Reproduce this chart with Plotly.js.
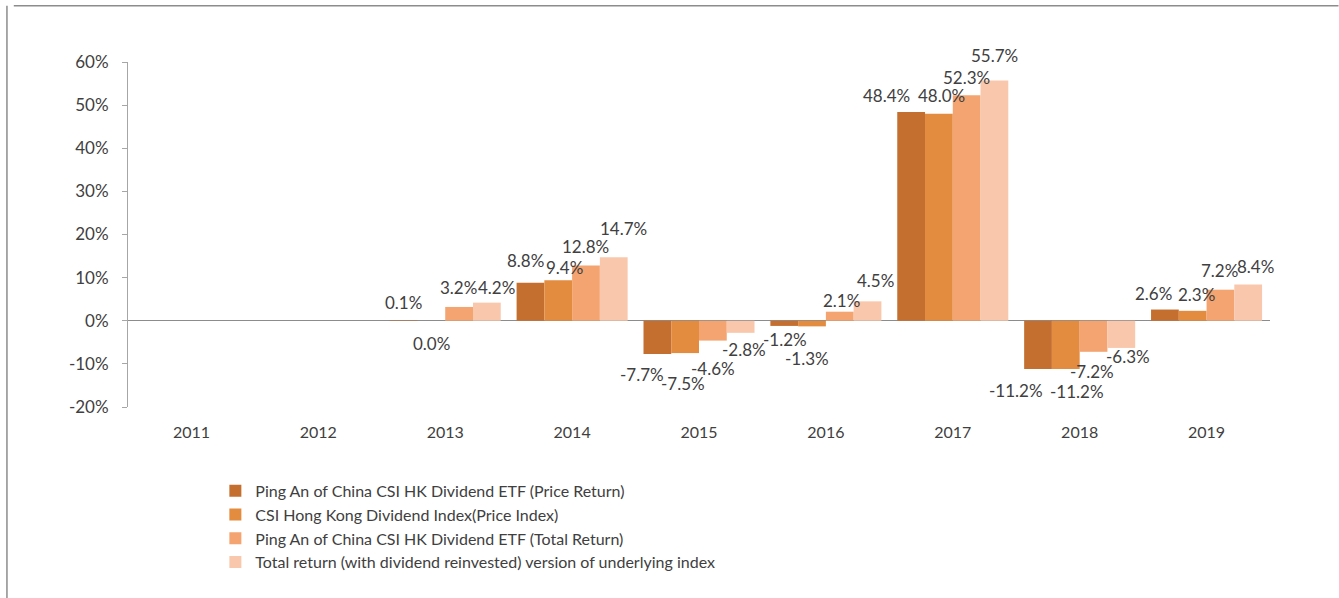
<!DOCTYPE html>
<html>
<head>
<meta charset="utf-8">
<script src="https://cdn.plot.ly/plotly-3.0.1.min.js"></script>
<style>html,body{margin:0;padding:0;background:#fff;}#chart{width:1339px;height:598px;}</style>
</head>
<body>
<div id="chart"></div>
<script>
// ---- data ----
const years = ["2011","2012","2013","2014","2015","2016","2017","2018","2019"];
const etfPrice   = [null, null, 0.1,  8.8, -7.7, -1.2, 48.4, -11.2, 2.6];
const indexPrice = [null, null, 0.0,  9.4, -7.5, -1.3, 48.0, -11.2, 2.3];
const etfTotal   = [null, null, 3.2, 12.8, -4.6,  2.1, 52.3,  -7.2, 7.2];
const indexTotal = [null, null, 4.2, 14.7, -2.8,  4.5, 55.7,  -6.3, 8.4];
const seriesNames = [
  "Ping An of China CSI HK Dividend ETF (Price Return)",
  "CSI Hong Kong Dividend Index(Price Index)",
  "Ping An of China CSI HK Dividend ETF (Total Return)",
  "Total return (with dividend reinvested) version of underlying index"
];
const yTickVals = [-0.2, -0.1, 0, 0.1, 0.2, 0.3, 0.4, 0.5, 0.6];
const yTickText = ["-20%", "-10%", "0%", "10%", "20%", "30%", "40%", "50%", "60%"];

// ---- style ----
const colors = ["#C46F30", "#E38B3F", "#F4A470", "#F9C7AB"];
const allSeries = [etfPrice, indexPrice, etfTotal, indexTotal];
// data-label nudges in pixels (label centre relative to bar centre / bar end), as placed in the original
const labelDx = [
  [0, 0, 0, -5, -15, 1, -25, -22, -11],
  [0, 0, 0, 6, -2, -5, 3, 11, 4],
  [0, 0, -1, 0, 0, 2, 0, -2, -1],
  [0, 0, 10, 10, 3, 8, 0, 7, 7]
];
const labelDy = [
  [0, 0, -18, -22, 21, 14, -17, 21, -16],
  [0, 0, 23, -13, 30, 32, -18, 22, -16],
  [0, 0, -19, -19, 28, -11, -18, 20, -19],
  [0, 0, -15, -29, 17, -21, -25, 9, -18]
];

const FONT = "Lato, 'Open Sans', sans-serif";
const W = 1339, H = 598;
const M = {l: 128, r: 69, t: 62, b: 191};
const BARGAP = 0.125;
const plotW = W - M.l - M.r;
const catW = plotW / years.length;
const barW = catW * (1 - BARGAP) / allSeries.length;

const traces = allSeries.map((vals, i) => ({
  type: "bar",
  name: seriesNames[i],
  x: years,
  y: vals.map(v => v === null ? null : v / 100),
  marker: {color: colors[i], line: {width: 0}},
  hoverinfo: "x+y"
}));

const annotations = [];
allSeries.forEach((vals, i) => {
  const off = (i - (allSeries.length - 1) / 2) * barW;
  vals.forEach((v, j) => {
    if (v === null) return;
    annotations.push({
      x: j, y: v / 100, xref: "x", yref: "y",
      text: v.toFixed(1) + "%",
      showarrow: false,
      xanchor: "center", yanchor: "middle",
      borderpad: 0,
      xshift: off + labelDx[i][j],
      yshift: -labelDy[i][j],
      font: {family: FONT, size: 17, color: "#404040"}
    });
  });
});

const layout = {
  width: W, height: H,
  paper_bgcolor: "#fff", plot_bgcolor: "#fff",
  margin: M,
  barmode: "group",
  bargap: BARGAP,
  bargroupgap: 0,
  font: {family: FONT, size: 16, color: "#404040"},
  xaxis: {
    type: "category",
    range: [-0.5, years.length - 0.5],
    autorange: false,
    showline: false, ticks: "", showgrid: false,
    tickfont: {family: FONT, size: 16, color: "#404040"},
    ticklabelstandoff: 14
  },
  yaxis: {
    range: [-0.2, 0.6],
    autorange: false,
    tickmode: "array",
    tickvals: yTickVals,
    ticktext: yTickText,
    showgrid: false,
    showline: true, linecolor: "#a6a6a6", linewidth: 1,
    ticks: "outside", ticklen: 5, tickcolor: "#a6a6a6",
    zeroline: true, zerolinecolor: "#8c8c8c", zerolinewidth: 1,
    tickfont: {family: FONT, size: 17, color: "#404040"},
    ticklabelstandoff: 10
  },
  legend: {
    orientation: "v",
    x: 0.0765, xanchor: "left",
    y: -0.1935, yanchor: "top",
    font: {family: FONT, size: 16, color: "#404040"},
    tracegroupgap: 0,
    itemwidth: 30,
    bgcolor: "rgba(0,0,0,0)"
  },
  annotations: annotations,
  shapes: [
    {type: "line", xref: "paper", yref: "paper", x0: -0.1, x1: 1.06, y0: 1.163, y1: 1.163, line: {color: "#8c8c8c", width: 1.5}},
    {type: "line", xref: "paper", yref: "paper", x0: -0.106, x1: -0.106, y0: 1.163, y1: -0.6, line: {color: "#8c8c8c", width: 1.5}}
  ],
  showlegend: true
};

Plotly.newPlot("chart", traces, layout, {displayModeBar: false, staticPlot: true});
</script>
</body>
</html>
